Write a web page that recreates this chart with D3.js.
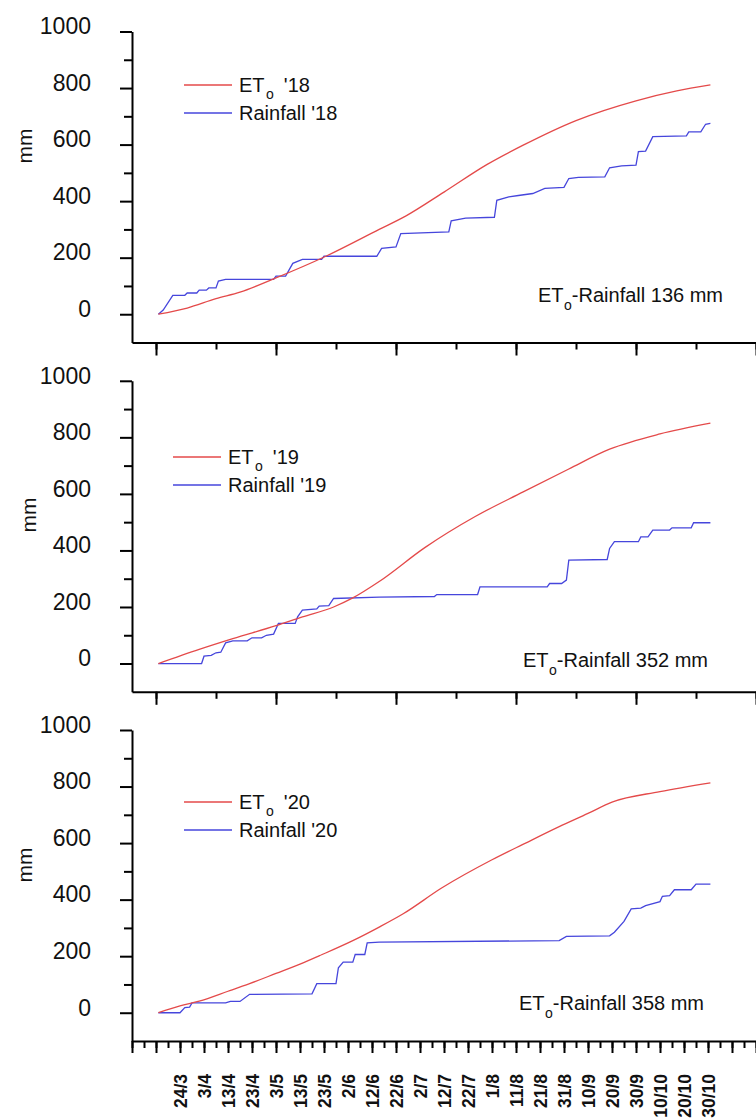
<!DOCTYPE html>
<html>
<head>
<meta charset="utf-8">
<script src="https://cdn.jsdelivr.net/npm/d3@7"></script>
<style>
  html, body { margin: 0; padding: 0; background: #fff; }
  svg { display: block; font-family: "Liberation Sans", Arial, sans-serif; }
</style>
</head>
<body>
<svg id="chart" width="756" height="1119"></svg>
<script>
// Cumulative reference evapotranspiration (ETo) and rainfall, mm, [day/month, value]
const et18 = [["15/3",0],["27/3",22],["8/4",55],["18/4",78],["2/5",125],["24/5",206],["15/6",300],
  ["26/6",347],["12/7",432],["30/7",530],["14/8",598],["5/9",685],["30/9",755],["17/10",790],["31/10",811]];
const rain18 = [["15/3",0],["17/3",15],["21/3",67],["26/3",67],["27/3",75],["31/3",75],["1/4",85],["4/4",85],
  ["5/4",93],["8/4",93],["9/4",117],["12/4",123],["2/5",123],["3/5",135],["7/5",135],["10/5",180],["14/5",194],
  ["22/5",194],["23/5",205],["14/6",205],["16/6",233],["22/6",238],["24/6",285],["14/7",291],["15/7",330],
  ["21/7",340],["2/8",343],["3/8",403],["8/8",415],["12/8",420],["18/8",427],["23/8",445],["31/8",449],
  ["2/9",480],["6/9",484],["17/9",486],["19/9",518],["24/9",525],["30/9",527],["1/10",575],["4/10",577],
  ["7/10",628],["21/10",631],["22/10",645],["27/10",645],["29/10",672],["31/10",675]];

const et19 = [["15/3",0],["1/4",50],["15/4",88],["3/5",134],["14/5",165],["27/5",200],["4/6",232],["15/6",290],
  ["4/7",410],["25/7",520],["14/8",607],["2/9",688],["19/9",758],["10/10",812],["31/10",850]];
const rain19 = [["15/3",0],["2/4",0],["3/4",26],["6/4",29],["8/4",38],["10/4",40],["12/4",73],["15/4",80],
  ["21/4",80],["23/4",91],["27/4",91],["29/4",100],["2/5",104],["4/5",142],["11/5",142],["12/5",165],
  ["14/5",189],["20/5",193],["21/5",203],["25/5",205],["27/5",230],["15/6",235],["8/7",237],["9/7",244],
  ["26/7",244],["27/7",271],["24/8",271],["25/8",283],["30/8",283],["1/9",295],["2/9",366],["18/9",368],
  ["19/9",407],["21/9",431],["1/10",431],["2/10",448],["5/10",448],["7/10",472],["14/10",472],["15/10",480],
  ["23/10",480],["24/10",498],["31/10",498]];

const et20 = [["15/3",0],["24/3",24],["1/4",41],["13/4",76],["22/4",103],["3/5",139],["13/5",172],["22/5",205],
  ["4/6",255],["15/6",303],["25/6",350],["11/7",441],["1/8",541],["15/8",600],["29/8",658],["10/9",705],
  ["20/9",745],["10/10",782],["31/10",813]];
const rain20 = [["15/3",0],["24/3",0],["26/3",18],["28/3",20],["29/3",35],["12/4",35],["14/4",40],["18/4",40],
  ["22/4",65],["18/5",67],["20/5",103],["28/5",103],["29/5",159],["31/5",179],["4/6",179],["5/6",206],
  ["9/6",206],["10/6",247],["15/6",250],["29/8",255],["1/9",270],["19/9",272],["21/9",285],["25/9",323],
  ["28/9",367],["2/10",370],["4/10",379],["10/10",393],["11/10",412],["14/10",414],["16/10",435],
  ["23/10",435],["25/10",455],["31/10",455]];

const seasons = ["'18", "'19", "'20"];
const seasonDeficit = [136, 352, 358];   // ETo minus rainfall over the season, mm

// Axis ticks and labels
const yMajorTicks = [0, 200, 400, 600, 800, 1000];
const yMinorTicks = [100, 300, 500, 700, 900];
const dateLabels = ["24/3","3/4","13/4","23/4","3/5","13/5","23/5","2/6","12/6","22/6","2/7","12/7",
  "22/7","1/8","11/8","21/8","31/8","10/9","20/9","30/9","10/10","20/10","30/10"];

const parseDay = d3.timeParse("%d/%m");
const fmtDay = d3.timeFormat("%-d/%-m");
const axisStart = parseDay("4/3");
const axisEnd = parseDay("19/11");

const x = d3.scaleTime().domain([axisStart, axisEnd]).range([132, 756]);

// tick dates every n days starting from a given day
function tickDays(from, n) {
  return d3.timeDay.range(from, d3.timeDay.offset(axisEnd, 1)).filter((d, i) => i % n === 0);
}

const svg = d3.select("#chart");
const RED = "#e44a4a", BLUE = "#4646dc";
const plotH = 311;

const layout = [
  { top: 31.5, legX: 184, legY: 85,  noteX: 538, noteY: 302,  mmX: 32, mmY: 146 },
  { top: 380.8, legX: 173, legY: 457, noteX: 523, noteY: 667, mmX: 36, mmY: 515 },
  { top: 730,  legX: 184, legY: 802, noteX: 519, noteY: 1010, mmX: 32, mmY: 865 }
];
const seriesData = [[et18, rain18], [et19, rain19], [et20, rain20]];

layout.forEach((L, i) => {
  const g = svg.append("g");
  const y = d3.scaleLinear().domain([-100, 1000]).range([L.top + plotH, L.top]);
  const bottomY = y(-100);
  const isLast = i === layout.length - 1;

  // y axis: minor then major ticks
  g.append("g").attr("transform", "translate(132,0)")
    .call(d3.axisLeft(y).tickValues(yMinorTicks).tickSize(8).tickSizeOuter(0).tickFormat(""))
    .call(a => a.select(".domain").remove());
  const ya = g.append("g").attr("transform", "translate(132,0)")
    .call(d3.axisLeft(y).tickValues(yMajorTicks).tickSize(12).tickSizeOuter(0).tickPadding(29)
      .tickFormat(d3.format("d")));
  ya.selectAll("text").attr("font-size", 23).attr("fill", "#111")
    .attr("font-family", "'Liberation Sans', Arial, sans-serif").attr("dy", "0.1em");

  // x axis
  const minorStep = isLast ? 5 : 25;
  const majorStep = isLast ? 10 : 50;
  const firstTick = isLast ? axisStart : parseDay("14/3");
  g.append("g").attr("transform", `translate(0,${bottomY})`)
    .call(d3.axisBottom(x).tickValues(tickDays(firstTick, minorStep)).tickSize(7).tickSizeOuter(0).tickFormat(""))
    .call(a => a.select(".domain").remove());
  const xa = g.append("g").attr("transform", `translate(0,${bottomY})`)
    .call(d3.axisBottom(x).tickValues(tickDays(firstTick, majorStep)).tickSize(isLast ? 12 : 13).tickSizeOuter(0)
      .tickFormat(d => (isLast && dateLabels.includes(fmtDay(d))) ? fmtDay(d) : ""));
  if (isLast) {
    xa.selectAll("text")
      .attr("font-size", 17.5).attr("font-weight", "bold").attr("fill", "#111")
      .attr("font-family", "'Liberation Sans', Arial, sans-serif")
      .attr("text-anchor", "end")
      .attr("transform", "rotate(-90)")
      .attr("x", -(1074 - bottomY)).attr("y", 0).attr("dy", "0.36em");
  }

  [ya, xa].forEach(a => {
    a.select(".domain").attr("stroke", "#000").attr("stroke-width", 2);
  });
  g.selectAll(".tick line").attr("stroke", "#000").attr("stroke-width", 2);

  // y axis title
  g.append("text")
    .attr("transform", `translate(${L.mmX},${L.mmY}) rotate(-90)`)
    .attr("text-anchor", "middle").attr("font-size", 21).attr("fill", "#111")
    .text("mm");

  // series
  const [etSeries, rainSeries] = seriesData[i];
  const etLine = d3.line().x(d => x(parseDay(d[0]))).y(d => y(d[1])).curve(d3.curveMonotoneX);
  const rainLine = d3.line().x(d => x(parseDay(d[0]))).y(d => y(d[1]));
  g.append("path").datum(rainSeries).attr("d", rainLine)
    .attr("fill", "none").attr("stroke", BLUE).attr("stroke-width", 1.3);
  g.append("path").datum(etSeries).attr("d", etLine)
    .attr("fill", "none").attr("stroke", RED).attr("stroke-width", 1.3);

  // legend
  const leg = g.append("g").attr("font-size", 20).attr("fill", "#111");
  leg.append("line").attr("x1", L.legX).attr("x2", L.legX + 48).attr("y1", L.legY).attr("y2", L.legY)
    .attr("stroke", RED).attr("stroke-width", 1.3);
  leg.append("line").attr("x1", L.legX).attr("x2", L.legX + 48).attr("y1", L.legY + 28).attr("y2", L.legY + 28)
    .attr("stroke", BLUE).attr("stroke-width", 1.3);
  const t1 = leg.append("text").attr("x", L.legX + 55).attr("y", L.legY + 7);
  t1.append("tspan").text("ET");
  t1.append("tspan").attr("font-size", 14).attr("dx", 1.5).attr("dy", 7).text("o");
  t1.append("tspan").attr("dx", 10).attr("dy", -7).text(seasons[i]);
  leg.append("text").attr("x", L.legX + 55).attr("y", L.legY + 35).text("Rainfall " + seasons[i]);

  // seasonal deficit note
  const note = g.append("text").attr("x", L.noteX).attr("y", L.noteY).attr("font-size", 20).attr("fill", "#111");
  note.append("tspan").text("ET");
  note.append("tspan").attr("font-size", 14).attr("dx", 0.5).attr("dy", 8).text("o");
  note.append("tspan").attr("dy", -8).text(`-Rainfall ${seasonDeficit[i]} mm`);
});
</script>
</body>
</html>
